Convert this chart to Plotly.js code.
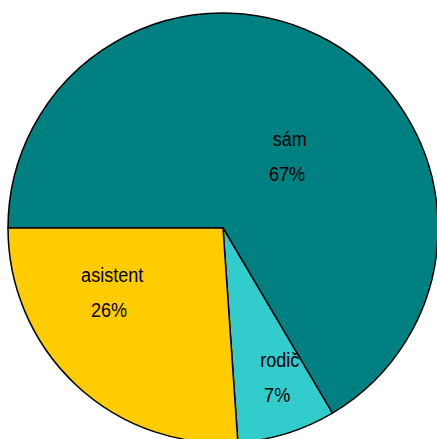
<!DOCTYPE html>
<html>
<head>
<meta charset="utf-8">
<script src="https://cdn.plot.ly/plotly-3.0.1.min.js"></script>
<style>
html,body{margin:0;padding:0;overflow:hidden;background:#fff;}
#chart{width:440px;height:450px;}
#chart text.annotation-text{transform-box:fill-box;transform-origin:center;transform:scaleX(0.86);}
</style>
</head>
<body>
<div id="chart"></div>
<script>
var categories = ["sám", "rodič", "asistent"];
var values = [66.5, 7.4, 26.1];
var colors = ["#008080", "#33CCCC", "#FFCC00"];

// label placement style (angle shift from slice mid-angle, radial fraction)
var labelAngleShift = [13.4, -3.6, 17.0];
var labelRadius = [0.456, 0.744, 0.596];

var startAngle = -90;
var total = values.reduce(function(a, b){ return a + b; }, 0);

var trace = {
  type: "pie",
  labels: categories,
  values: values,
  sort: false,
  direction: "clockwise",
  rotation: startAngle,
  marker: {colors: colors, line: {color: "#000000", width: 1.5}},
  textinfo: "none",
  hoverinfo: "label+percent",
  showlegend: false
};

var fontSpec = {family: "Liberation Sans, Arial, sans-serif", size: 21, color: "#000000"};
var annotations = [];
var cum = 0;
var lineOffset = 17.5 / 430;
for (var i = 0; i < values.length; i++) {
  var mid = startAngle + (cum + values[i] / 2) / total * 360;
  cum += values[i];
  var th = (mid + labelAngleShift[i]) * Math.PI / 180;
  var xp = 0.5 + labelRadius[i] * 0.5 * Math.sin(th);
  var yp = 0.5 + labelRadius[i] * 0.5 * Math.cos(th);
  var pct = Math.round(values[i] / total * 100) + "%";
  annotations.push({xref: "paper", yref: "paper", x: xp, y: yp + lineOffset, text: categories[i],
    showarrow: false, xanchor: "center", yanchor: "middle", font: fontSpec});
  annotations.push({xref: "paper", yref: "paper", x: xp - 0.006, y: yp - lineOffset, text: pct,
    showarrow: false, xanchor: "center", yanchor: "middle", font: fontSpec});
}

var layout = {
  width: 440,
  height: 450,
  margin: {l: 8, r: 2, t: 13, b: 7, pad: 0},
  paper_bgcolor: "#ffffff",
  showlegend: false,
  annotations: annotations
};

Plotly.newPlot("chart", [trace], layout, {staticPlot: true, displayModeBar: false});
</script>
</body>
</html>
